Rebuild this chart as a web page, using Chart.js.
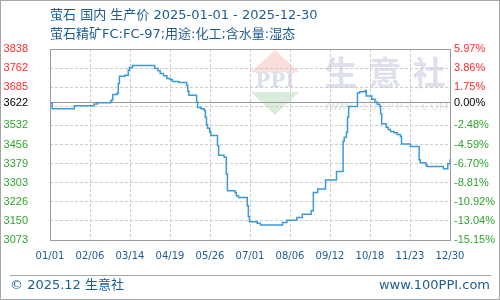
<!DOCTYPE html>
<html>
<head>
<meta charset="utf-8">
<script src="https://cdn.jsdelivr.net/npm/chart.js@4.4.1/dist/chart.umd.min.js"></script>
<style>
body { margin: 0; background: #fff; }
#wrap { position: relative; width: 500px; height: 300px; overflow: hidden; font-family: "DejaVu Sans", "Noto Sans CJK SC", sans-serif; }
#frame { position: absolute; left: 0; top: 0; width: 500px; height: 300px; box-sizing: border-box; border: 1px solid #a6a6a6; pointer-events: none; }
.title { position: absolute; left: 50px; font-size: 13px; line-height: 18px; color: #1d5c93; white-space: nowrap; }
#t1 { top: 6px; }
#t2 { top: 25px; }
#sep { position: absolute; left: 10px; top: 275px; width: 481px; height: 1px; background: #a6a6a6; }
.foot { position: absolute; top: 276px; font-size: 13px; line-height: 18px; color: #1d5c93; white-space: nowrap; }
#f1 { left: 10px; }
#f2 { right: 10px; }
canvas { position: absolute; left: 0; top: 0; }
</style>
</head>
<body>
<div id="wrap">
  <canvas id="priceChart" width="500" height="300"></canvas>
  <div class="title" id="t1">萤石 国内 生产价 2025-01-01 - 2025-12-30</div>
  <div class="title" id="t2">萤石精矿FC:FC-97;用途:化工;含水量:湿态</div>
  <div id="sep"></div>
  <div class="foot" id="f1">© 2025.12 生意社</div>
  <div class="foot" id="f2">www.100PPI.com</div>
  <div id="frame"></div>
</div>
<script>
//axis labels
const tickDates = ['01/01', '02/06', '03/14', '04/19', '05/26', '07/01', '08/06', '09/12', '10/18', '11/23', '12/30'];
const totalDays = 363;
const basePrice = 3622;
const priceMin = 3073;
const priceMax = 3838;
const leftTickVals = [3838, 3761.5, 3685, 3622, 3608.5, 3532, 3455.5, 3379, 3302.5, 3226, 3149.5, 3073];
const leftTickText = ['3838', '3762', '3685', '3622', '', '3532', '3456', '3379', '3303', '3226', '3150', '3073'];
const rightTickText = ['5.97%', '3.86%', '1.75%', '0.00%', '', '-2.48%', '-4.59%', '-6.70%', '-8.81%', '-10.92%', '-13.04%', '-15.15%'];

//price steps: day number from 2025-01-01, price after the step
const stepDays = [0, 2, 22, 40, 43, 55, 56, 57, 61, 62, 63, 68, 71, 72, 75,
  95, 98, 100, 103, 106, 109, 111, 117, 124, 125, 126, 133, 134, 137, 140,
  141, 142, 143, 145, 146, 152, 153, 158, 160, 161, 168, 169, 171, 179, 180,
  181, 188, 191, 211, 215, 224, 229, 237, 239, 243, 250, 260, 266, 267, 269,
  270, 271, 279, 281, 286, 287, 292, 295, 297, 299, 300, 301, 305, 307, 309,
  312, 315, 318, 319, 327, 335, 336, 341, 342, 357, 361, 363];
const stepPrices = [3622, 3599, 3611, 3618, 3623, 3630, 3635, 3656, 3662, 3700, 3729, 3733, 3753, 3764, 3772,
  3760, 3751, 3740, 3731, 3720, 3716, 3708, 3704, 3693, 3669, 3653, 3626, 3604, 3599, 3592,
  3565, 3535, 3521, 3505, 3492, 3451, 3412, 3404, 3337, 3270, 3263, 3250, 3243, 3210, 3166,
  3146, 3140, 3133, 3143, 3152, 3163, 3176, 3190, 3263, 3277, 3313, 3347, 3469, 3485, 3505,
  3565, 3608, 3662, 3667, 3672, 3650, 3637, 3626, 3617, 3610, 3579, 3539, 3525, 3516, 3508,
  3503, 3496, 3488, 3458, 3447, 3394, 3382, 3374, 3367, 3358, 3378, 3396];

const priceData = stepDays.map((d, i) => ({x: d, y: stepPrices[i]}));

function labelColor(ctx) {
  const v = ctx.tick.value;
  if (v > basePrice) return '#ff2b2b';
  if (v < basePrice) return '#2ea52e';
  return '#000000';
}

function setPriceTicks(scale) {
  scale.ticks = leftTickVals.map(v => ({value: v}));
}

//faint logo behind the grid
const watermark = {
  id: 'watermark',
  beforeDraw(chart) {
    const c = chart.ctx;
    c.save();
    c.fillStyle = 'rgba(240,160,150,0.35)';
    c.beginPath(); c.moveTo(275, 50); c.lineTo(299, 72); c.lineTo(251, 72); c.closePath(); c.fill();
    c.fillStyle = 'rgba(150,200,150,0.35)';
    c.beginPath(); c.moveTo(251, 92); c.lineTo(299, 92); c.lineTo(275, 115); c.closePath(); c.fill();
    c.fillStyle = 'rgba(190,198,222,0.55)';
    c.font = 'bold 20px "DejaVu Serif"';
    c.textAlign = 'center';
    c.textBaseline = 'middle';
    c.fillText('PPI', 275, 82);
    c.font = 'bold 33px "Noto Sans CJK SC"';
    c.fillStyle = 'rgba(200,205,225,0.6)';
    ['生', '意', '社'].forEach((ch, i) => c.fillText(ch, 341 + i * 44, 72));
    c.font = '11px "DejaVu Sans"';
    c.fillStyle = 'rgba(215,215,215,0.7)';
    const url = 'WWW.100PPI.COM';
    for (let i = 0; i < url.length; i++) c.fillText(url[i], 329 + i * 8.8, 107);
    c.restore();
  }
};

const plotFrame = {
  id: 'plotFrame',
  afterDraw(chart) {
    const a = chart.chartArea;
    const c = chart.ctx;
    c.save();
    c.strokeStyle = '#9a9a9a';
    c.lineWidth = 1;
    c.strokeRect(Math.round(a.left) + 0.5, Math.round(a.top) + 0.5, Math.round(a.right - a.left), Math.round(a.bottom - a.top));
    c.restore();
  }
};

const priceChart = new Chart(document.getElementById('priceChart'), {
  type: 'line',
  data: {
    datasets: [{
      data: priceData,
      borderColor: '#3a9ad8',
      borderWidth: 1.5,
      pointRadius: 0,
      stepped: true,
      fill: false
    }]
  },
  options: {
    responsive: false,
    animation: false,
    events: [],
    layout: {padding: {top: 49, left: 0, right: 0, bottom: 0}},
    plugins: {legend: {display: false}, tooltip: {enabled: false}},
    scales: {
      x: {
        type: 'linear',
        min: 0,
        max: totalDays,
        afterBuildTicks: s => { s.ticks = tickDates.map((_, i) => ({value: totalDays * i / (tickDates.length - 1)})); },
        afterFit: s => { s.height = 60; },
        ticks: {
          callback: (v, i) => tickDates[i],
          autoSkip: false,
          maxRotation: 0,
          padding: 10,
          color: '#1d5c93',
          font: {family: 'DejaVu Sans', size: 10}
        },
        grid: {color: '#cccccc', drawTicks: false},
        border: {display: false, dash: [3, 2]}
      },
      y: {
        position: 'left',
        min: priceMin,
        max: priceMax,
        afterBuildTicks: setPriceTicks,
        afterFit: s => { s.width = 50; },
        ticks: {
          callback: (v, i) => leftTickText[i],
          autoSkip: false,
          padding: 22,
          color: labelColor,
          font: {family: 'Liberation Sans', size: 11}
        },
        grid: {
          drawTicks: false,
          color: ctx => (ctx.tick && ctx.tick.value === basePrice) ? '#999999' : '#cccccc'
        },
        border: {
          display: false,
          dash: ctx => (ctx.tick && ctx.tick.value === basePrice) ? [] : [3, 2]
        }
      },
      y2: {
        position: 'right',
        min: priceMin,
        max: priceMax,
        afterBuildTicks: setPriceTicks,
        afterFit: s => { s.width = 50; },
        ticks: {
          callback: (v, i) => rightTickText[i],
          autoSkip: false,
          padding: 4,
          color: labelColor,
          font: {family: 'Liberation Sans', size: 11}
        },
        grid: {drawOnChartArea: false, drawTicks: false},
        border: {display: false}
      }
    }
  },
  plugins: [watermark, plotFrame]
});
</script>
</body>
</html>
